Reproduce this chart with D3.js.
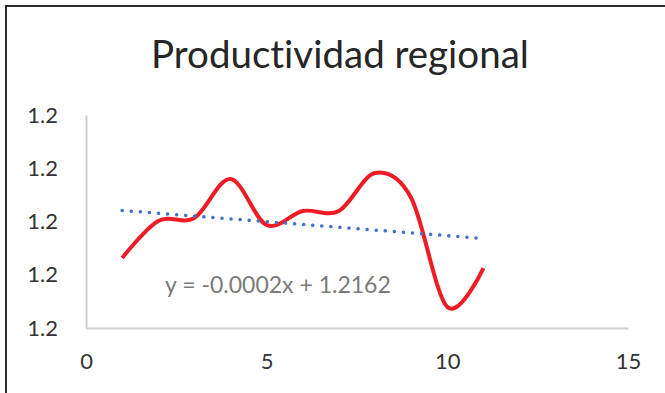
<!DOCTYPE html>
<html>
<head>
<meta charset="utf-8">
<script src="https://cdn.jsdelivr.net/npm/d3@7"></script>
<style>
  body { margin: 0; background: #fff; }
  text { font-family: Lato, "Open Sans", sans-serif; font-variant-ligatures: none; }
</style>
</head>
<body>
<svg id="chart"></svg>
<script>
const ink = "#333333";

// data
const periods = [1, 2, 3, 4, 5, 6, 7, 8, 9, 10, 11];
const productivity = [1.21157, 1.21505, 1.21533, 1.21899, 1.21467, 1.21599,
                      1.21599, 1.21955, 1.21721, 1.20697, 1.21063];
const xTicks = [0, 5, 10, 15];
const yTicks = [1.205, 1.21, 1.215, 1.22, 1.225];
const chartTitle = "Productividad regional";
const equationLabel = "y = -0.0002x + 1.2162";

const W = 665, H = 393;
const margin = { top: 115, right: 37, bottom: 65, left: 86 };

const svg = d3.select("#chart")
  .attr("width", W)
  .attr("height", H);

// chart frame (cut off at right/bottom)
svg.append("rect")
  .attr("x", 6).attr("y", 6)
  .attr("width", 720).attr("height", 500)
  .attr("fill", "none")
  .attr("stroke", "#2b2b2b")
  .attr("stroke-width", 2);

// Scales
const x = d3.scaleLinear()
  .domain([0, 15])
  .range([margin.left, W - margin.right]);

const y = d3.scaleLinear()
  .domain([1.205, 1.225])
  .range([H - margin.bottom, margin.top]);

// Axes
const xAxis = svg.append("g")
  .attr("transform", `translate(0,${H - margin.bottom})`)
  .call(d3.axisBottom(x).tickValues(xTicks).tickSize(0).tickPadding(25).tickFormat(d3.format("d")));
xAxis.select(".domain").attr("stroke", "#d0d0d0").attr("stroke-width", 2);
xAxis.selectAll("text").attr("fill", ink).style("font-size", "22px")
  .style("font-family", "Lato, sans-serif");

const yAxis = svg.append("g")
  .attr("transform", `translate(${margin.left},0)`)
  .call(d3.axisLeft(y).tickValues(yTicks).tickSize(0).tickPadding(28).tickFormat(d3.format(".1f")));
yAxis.select(".domain").attr("stroke", "#d0d0d0").attr("stroke-width", 2);
yAxis.selectAll("text").attr("fill", ink).style("font-size", "22px")
  .style("font-family", "Lato, sans-serif");

// Series
const data = periods.map((p, i) => ({ x: p, y: productivity[i] }));

svg.append("path")
  .datum(data)
  .attr("fill", "none")
  .attr("stroke", "#ee1c25")
  .attr("stroke-width", 4)
  .attr("stroke-linejoin", "round")
  .attr("d", d3.line().x(d => x(d.x)).y(d => y(d.y)).curve(d3.curveCardinal.tension(0)));

// Linear trendline
const mx = d3.mean(data, d => d.x), my = d3.mean(data, d => d.y);
const slope = d3.sum(data, d => (d.x - mx) * (d.y - my)) / d3.sum(data, d => (d.x - mx) ** 2);
const icpt = my - slope * mx;
const trend = [periods[0], periods[periods.length - 1]].map(p => ({ x: p, y: icpt + slope * p }));

svg.append("path")
  .datum(trend)
  .attr("fill", "none")
  .attr("stroke", "#4472c4")
  .attr("stroke-width", 3.5)
  .attr("stroke-linecap", "round")
  .attr("stroke-dasharray", "0.1 9")
  .attr("d", d3.line().x(d => x(d.x)).y(d => y(d.y)));

svg.append("text")
  .attr("x", 165)
  .attr("y", 293)
  .attr("fill", "#7a7a7a")
  .style("font-size", "23px")
  .text(equationLabel);

// Title
svg.append("text")
  .attr("x", (153 + 527) / 2)
  .attr("y", 68)
  .attr("text-anchor", "middle")
  .attr("fill", "#262626")
  .style("font-size", "38.5px")
  .text(chartTitle);
</script>
</body>
</html>
